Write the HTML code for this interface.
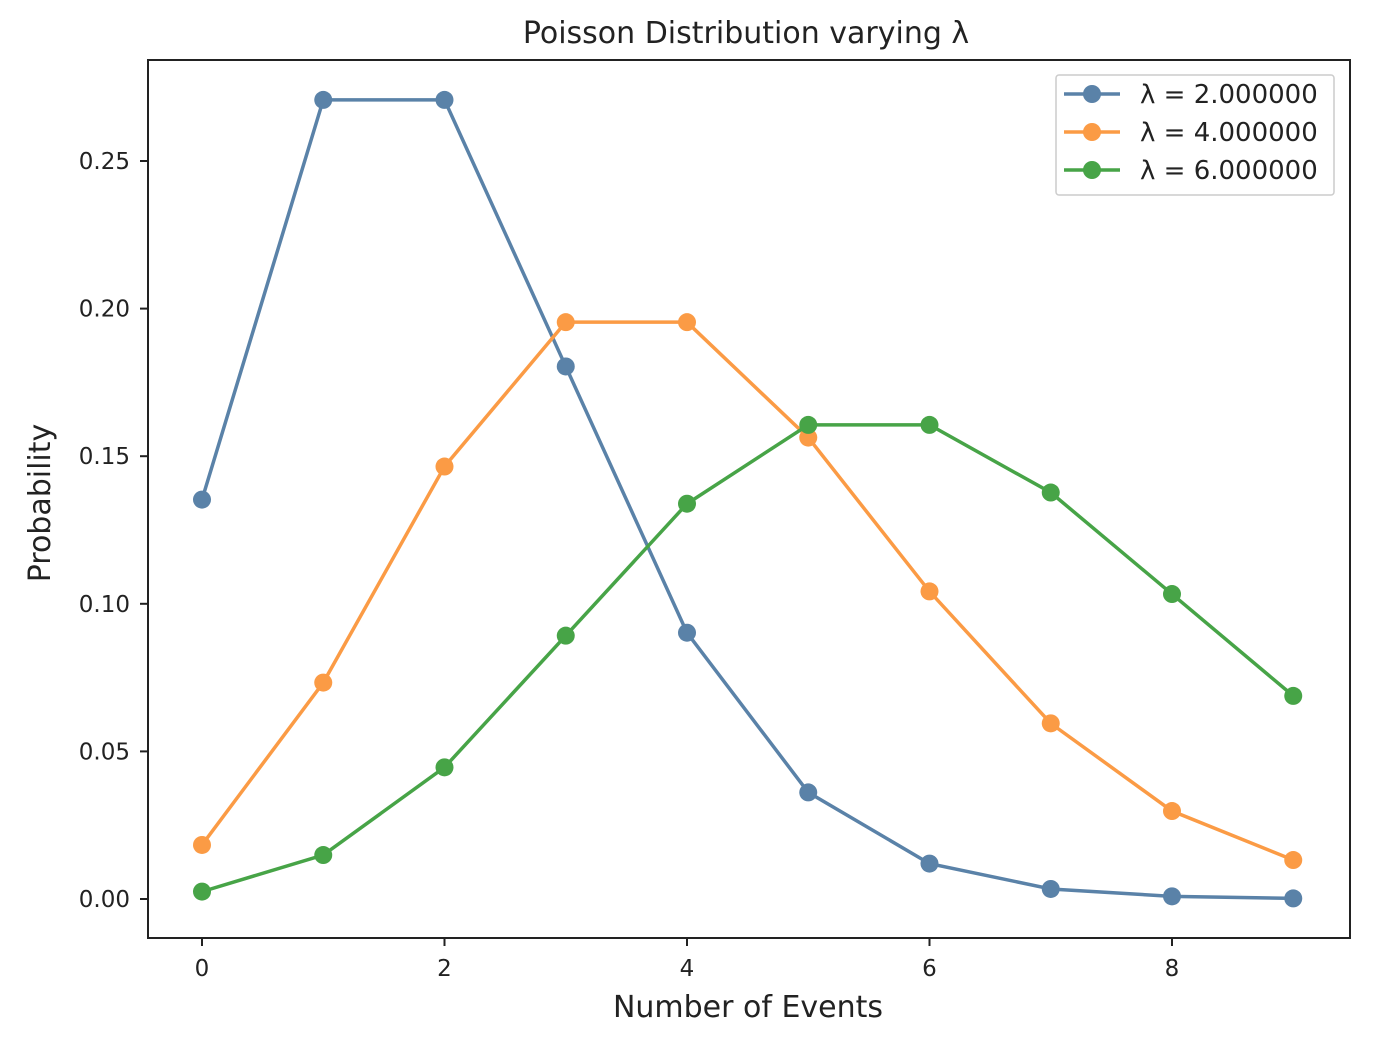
<!DOCTYPE html>
<html><head><meta charset="utf-8"><style>
html,body{margin:0;padding:0;background:#fff;}
svg text{font-family:"DejaVu Sans","Liberation Sans",sans-serif;fill:#222;}
</style></head><body>
<svg id="chart" width="1400" height="1036" xmlns="http://www.w3.org/2000/svg">
<text x="746" y="43" font-size="30" text-anchor="middle">Poisson Distribution varying λ</text>
<rect x="148" y="60" width="1202" height="878" fill="none" stroke="#222" stroke-width="2"/>
<g id="xticks"></g>
<g id="yticks"></g>
<g id="series"></g>
<text x="748" y="1017" font-size="30" text-anchor="middle">Number of Events</text>
<text x="0" y="0" font-size="30" text-anchor="middle" transform="translate(50,503) rotate(-90)">Probability</text>
<g>
<rect x="1056" y="75" width="278" height="120" fill="#fff" stroke="#ccc" stroke-width="1.5" rx="3"/>
<g id="legend-entries"></g>
</g>
</svg>
<script>
const categories=[0,1,2,3,4,5,6,7,8,9];
const lam2=[0.1353,0.2707,0.2707,0.1804,0.0902,0.0361,0.0120,0.0034,0.0009,0.0002];
const lam4=[0.0183,0.0733,0.1465,0.1954,0.1954,0.1563,0.1042,0.0595,0.0298,0.0132];
const lam6=[0.0025,0.0149,0.0446,0.0892,0.1339,0.1606,0.1606,0.1377,0.1033,0.0688];
const seriesLabels=["λ = 2.000000","λ = 4.000000","λ = 6.000000"];
const xTickLabels=["0","2","4","6","8"];
const yTickLabels=["0.00","0.05","0.10","0.15","0.20","0.25"];
const NS="http://www.w3.org/2000/svg";
const xs=v=>202+v*121.25;
const ys=v=>899-v*2952;
function mk(t,a,p){const e=document.createElementNS(NS,t);for(const k in a)e.setAttribute(k,a[k]);p.appendChild(e);return e;}
const xg=document.getElementById('xticks');
xTickLabels.forEach(l=>{const v=+l;
 const t=mk('line',{x1:xs(v),x2:xs(v),y1:938,y2:946,stroke:'#222','stroke-width':2},xg);
 
 
 const tx=mk('text',{x:xs(v),y:976,'font-size':23,'text-anchor':'middle'},xg);tx.textContent=l;
 
 
});
const yg=document.getElementById('yticks');
yTickLabels.forEach(l=>{const v=+l;
 const t=mk('line',{x1:140,x2:148,y1:ys(v),y2:ys(v),stroke:'#222','stroke-width':2},yg);
 
 
 const tx=mk('text',{x:130,y:ys(v)+8,'font-size':23,'text-anchor':'end'},yg);tx.textContent=l;
 
 
});
const colors=["#5a82a8","#fb9b45","#47a447"];
const data=[lam2,lam4,lam6];
const sg=document.getElementById('series');
data.forEach((d,i)=>{
 const g=mk('g',{},sg);
 
 
 const pl=mk('polyline',{points:categories.map((c,j)=>xs(c)+','+ys(d[j])).join(' '),fill:'none',stroke:colors[i],'stroke-width':3.5},g);
 
 
 categories.forEach((c,j)=>{const p=mk('circle',{cx:xs(c),cy:ys(d[j]),r:9,fill:colors[i]},g);
  
  });
});
const lg=document.getElementById('legend-entries');
seriesLabels.forEach((l,i)=>{const y=94+i*38;
 const e=mk('g',{},lg);
 
 
 mk('line',{x1:1064,x2:1120,y1:y,y2:y,stroke:colors[i],'stroke-width':3.5},e);
 mk('circle',{cx:1092,cy:y,r:9,fill:colors[i]},e);
 const t=mk('text',{x:1140,y:y+9,'font-size':26},e);t.textContent=l;
});
</script>
</body></html>
